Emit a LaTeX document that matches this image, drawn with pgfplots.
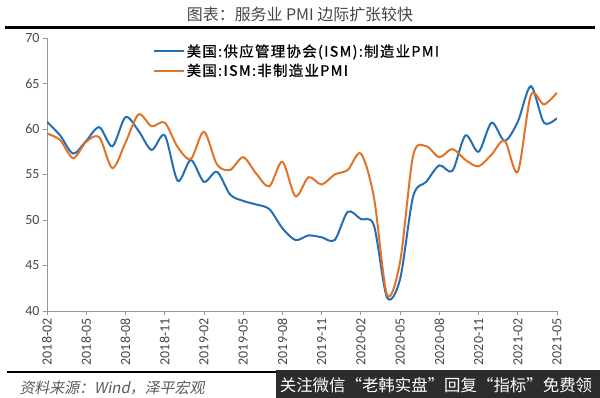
\documentclass[border=0pt]{standalone}
\usepackage{fontspec}
\usepackage{pgfplots}
\pgfplotsset{compat=1.18}
\setmainfont{Carlito}
\newfontfamily\cjk{Noto Sans CJK SC}
\newfontfamily\cjkleg{Noto Sans CJK SC}[LetterSpace=9, FakeBold=0.8]
\newfontfamily\cjkit{Noto Sans CJK SC}[FakeSlant=0.2]
\definecolor{ismblue}{RGB}{35,110,180}
\definecolor{ismorange}{RGB}{225,115,40}
\definecolor{axisgray}{RGB}{150,150,150}
\definecolor{labgray}{RGB}{70,70,70}
\definecolor{boxgray}{RGB}{45,45,45}
\begin{document}
\begin{tikzpicture}
\path[use as bounding box] (0,0) rectangle (600bp,398bp);
\node[text=labgray, font=\cjk\fontsize{16}{16}\selectfont] at (300bp,384bp) {图表：服务业 PMI 边际扩张较快};
\draw[line width=3bp] (5bp,370bp) -- (595bp,370bp);
\begin{axis}[
  at={(47bp,87bp)}, anchor=south west,
  scale only axis, width=510bp, height=273bp,
  xmin=0, xmax=39, ymin=40, ymax=70,
  axis x line*=bottom, axis y line*=left,
  axis line style={draw=axisgray, line width=0.8bp, -},
  ytick={40,45,...,70},
  xtick={0,3,...,39},
  xticklabels={2018-02,2018-05,2018-08,2018-11,2019-02,2019-05,2019-08,2019-11,2020-02,2020-05,2020-08,2020-11,2021-02,2021-05},
  tick align=outside,
  major tick length=4bp,
  tick style={draw=axisgray, line width=0.8bp},
  /pgf/number format/assume math mode=true,
  yticklabel style={font=\fontsize{14}{14}\selectfont, text=labgray},
  xticklabel style={font=\fontsize{14}{14}\selectfont, text=labgray, rotate=90, anchor=east},
  legend style={draw=none, fill=none, at={(0.202,0.99)}, anchor=north west,
    font=\cjkleg\fontsize{14.5}{16}\selectfont, text=black, row sep=2.5bp,
    nodes={inner sep=1.5bp}},
  legend cell align=left,
  legend image code/.code={\draw[#1, line width=2bp] (0bp,0bp) -- (30bp,0bp);},
]
\addplot[color=ismblue, line width=2bp, smooth, tension=0.5] coordinates {
(0,60.8) (1,59.3) (2,57.3) (3,58.7) (4,60.2) (5,58.1) (6,61.3) (7,59.8) (8,57.7) (9,59.3)
(10,54.3) (11,56.6) (12,54.2) (13,55.3) (14,52.8) (15,52.1) (16,51.7) (17,51.2) (18,49.1) (19,47.8)
(20,48.3) (21,48.1) (22,47.8) (23,50.9) (24,50.1) (25,49.4) (26,41.5) (27,43.5) (28,52.6) (29,54.2)
(30,56.0) (31,55.4) (32,59.3) (33,57.5) (34,60.7) (35,58.7) (36,60.8) (37,64.7) (38,60.7) (39,61.2)
};
\addlegendentry{美国:供应管理协会(ISM):制造业PMI}
\addplot[color=ismorange, line width=2bp, smooth, tension=0.5] coordinates {
(0,59.5) (1,58.8) (2,56.8) (3,58.6) (4,59.1) (5,55.7) (6,58.5) (7,61.6) (8,60.3) (9,60.7)
(10,58.0) (11,56.7) (12,59.7) (13,56.1) (14,55.5) (15,56.9) (16,55.1) (17,53.7) (18,56.4) (19,52.6)
(20,54.7) (21,53.9) (22,55.0) (23,55.5) (24,57.3) (25,52.5) (26,41.8) (27,45.4) (28,57.1) (29,58.1)
(30,56.9) (31,57.8) (32,56.6) (33,55.9) (34,57.2) (35,58.7) (36,55.3) (37,63.7) (38,62.7) (39,64.0)
};
\addlegendentry{美国:ISM:非制造业PMI}
\end{axis}
\draw[line width=2.5bp] (7bp,26bp) -- (595bp,26bp);
\node[anchor=west, text={rgb,255:red,90;green,90;blue,90}, font=\cjkit\fontsize{15}{15}\selectfont] at (16bp,10bp) {资料来源：Wind，泽平宏观};
\fill[boxgray] (276bp,0bp) rectangle (600bp,28bp);
\node[text=white, font=\cjk\fontsize{16.5}{16.5}\selectfont] at (436bp,13bp) {关注微信“老韩实盘”回复“指标”免费领};
\end{tikzpicture}
\end{document}
